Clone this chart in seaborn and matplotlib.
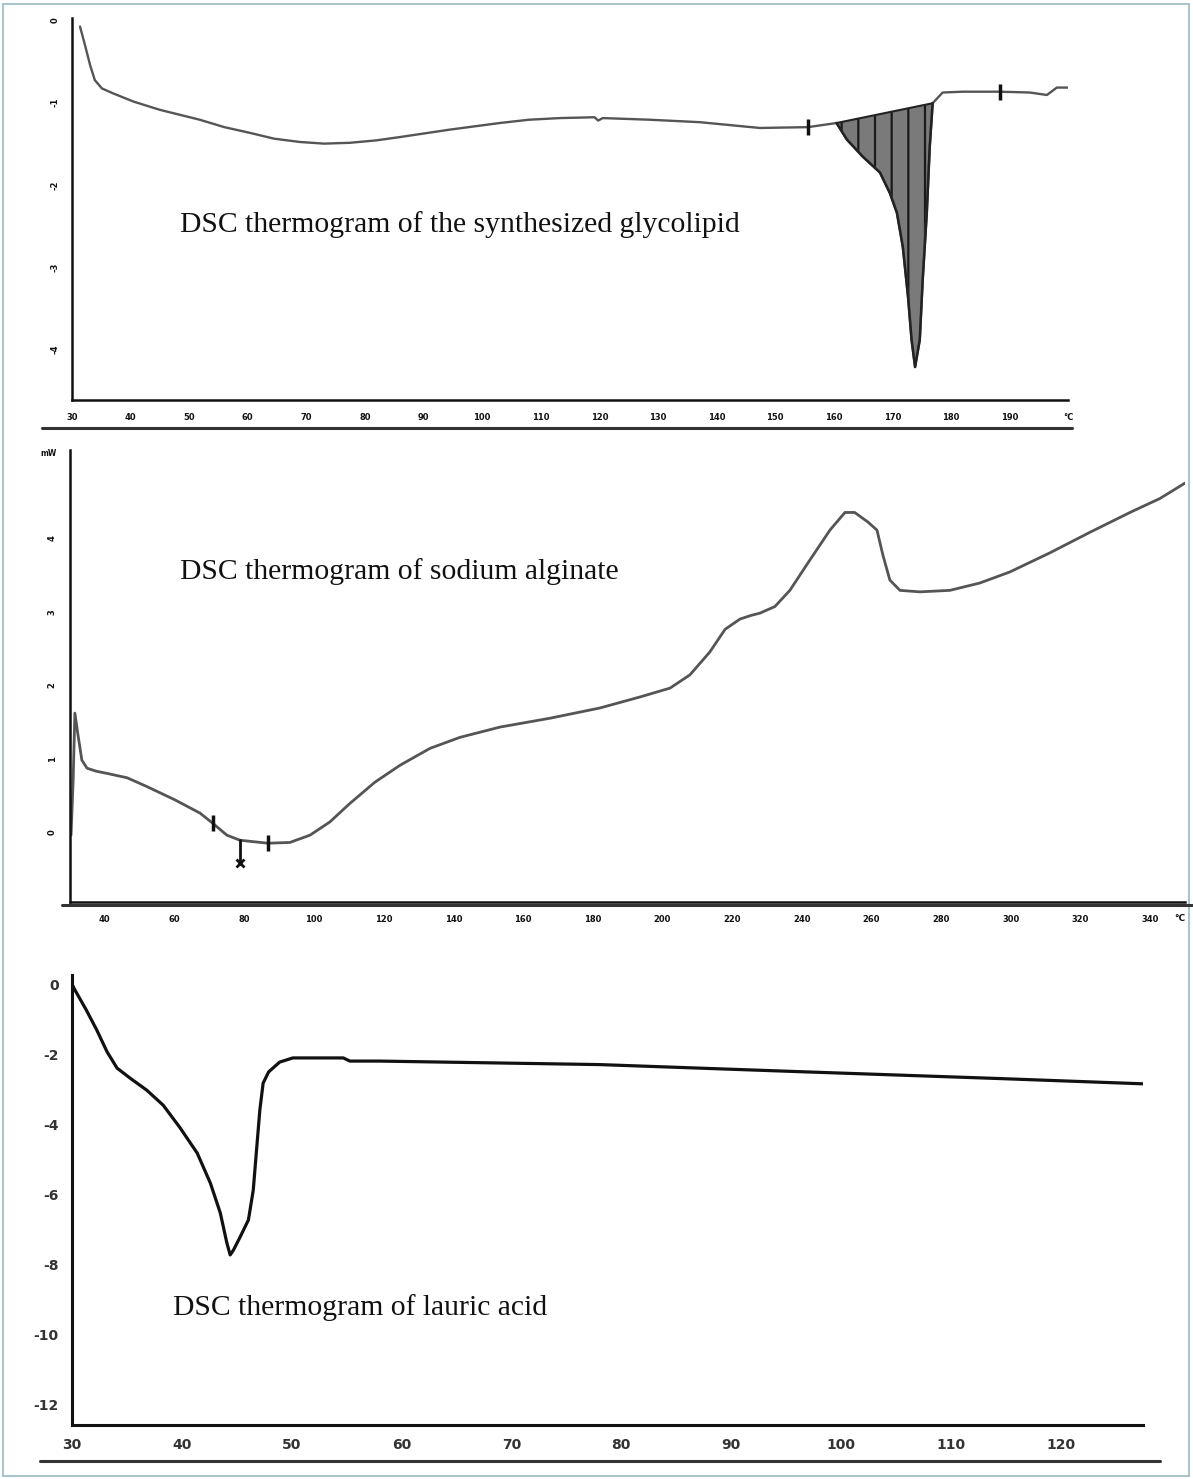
import numpy as np
import pandas as pd
import matplotlib
matplotlib.use("Agg")
import matplotlib.pyplot as plt
from matplotlib.lines import Line2D
from matplotlib.patches import Rectangle
from matplotlib.ticker import MultipleLocator, FixedLocator
import seaborn as sns

# ---------------- data ----------------
# Panel 1: synthesized glycolipid
glyco_T = [31.37, 32.2, 33.1, 33.9, 35.1, 37.0, 40.5, 45.0, 51.8, 56.0, 60.4, 64.5, 68.9,
           73.0, 77.4, 82.0, 86.0, 94.5, 103.0, 108.0, 113.3, 119.2, 119.8, 120.6, 128.6,
           137.2, 143.0, 147.4, 155.6, 160.5, 162.25, 165.0, 167.9, 169.6, 170.8, 171.8,
           172.7, 173.3, 173.9, 174.7, 175.2, 175.9, 176.4, 176.9, 178.6, 182.0, 188.4,
           193.5, 196.4, 198.1, 200.0]
glyco_mW = [-0.08, -0.30, -0.55, -0.73, -0.83, -0.89, -0.99, -1.09, -1.21, -1.30, -1.37,
            -1.44, -1.48, -1.50, -1.49, -1.46, -1.42, -1.33, -1.25, -1.21, -1.19, -1.18,
            -1.22, -1.19, -1.21, -1.24, -1.28, -1.31, -1.30, -1.25, -1.45, -1.66, -1.85,
            -2.10, -2.34, -2.75, -3.36, -3.88, -4.21, -3.88, -3.15, -2.34, -1.54, -1.01,
            -0.88, -0.87, -0.87, -0.88, -0.91, -0.82, -0.82]
glyco_peak_start, glyco_peak_end = 160.5, 176.9
glyco_marks = [155.6, 188.4]
glyco_xticks = list(range(30, 201, 10))
glyco_xlabels = [str(v) for v in range(30, 200, 10)] + ["°C"]
glyco_yticks = [0, -1, -2, -3, -4]

# Panel 2: sodium alginate
alg_T = [30.3, 30.9, 31.4, 32.3, 33.4, 34.9, 37.5, 40.6, 46.4, 52.1, 60.1, 67.3, 71.0,
         75.0, 78.8, 86.8, 93.1, 98.9, 104.6, 110.3, 117.5, 124.7, 133.3, 141.9, 153.4,
         167.7, 182.1, 193.6, 202.2, 207.9, 213.6, 218.0, 222.3, 225.5, 228.0, 232.3,
         236.6, 242.3, 248.1, 252.4, 255.2, 259.0, 261.6, 263.3, 265.3, 268.2, 273.9,
         282.5, 291.1, 299.7, 311.2, 322.7, 334.2, 342.8, 350.0]
alg_mW = [-0.04, 0.70, 1.62, 1.32, 0.98, 0.87, 0.83, 0.80, 0.74, 0.62, 0.44, 0.26, 0.12,
          -0.04, -0.11, -0.15, -0.14, -0.04, 0.14, 0.39, 0.68, 0.91, 1.14, 1.29, 1.43,
          1.55, 1.69, 1.84, 1.96, 2.14, 2.45, 2.76, 2.90, 2.95, 2.98, 3.07, 3.29, 3.70,
          4.11, 4.35, 4.35, 4.22, 4.11, 3.77, 3.43, 3.29, 3.27, 3.29, 3.39, 3.54, 3.80,
          4.08, 4.35, 4.54, 4.75]
alg_marks = [71.0, 86.8]
alg_peak_mark = 78.8
alg_peak_drop = -0.42
alg_xticks = list(range(40, 341, 20))
alg_yticks = [0, 1, 2, 3, 4]

# Panel 3: lauric acid
lau_T = [30.0, 30.27, 31.3, 32.25, 33.2, 34.1, 35.3, 36.8, 38.3, 39.8, 41.4, 42.6, 43.5,
         44.1, 44.4, 44.7, 45.3, 46.06, 46.5, 46.8, 47.1, 47.4, 47.9, 48.9, 50.1, 54.7,
         55.3, 58.0, 78.0, 96.0, 114.5, 127.5]
lau_mW = [0.0, -0.17, -0.74, -1.31, -1.94, -2.40, -2.69, -3.03, -3.46, -4.09, -4.83,
          -5.69, -6.54, -7.40, -7.74, -7.60, -7.23, -6.74, -5.89, -4.74, -3.60, -2.83,
          -2.51, -2.23, -2.11, -2.11, -2.20, -2.20, -2.30, -2.50, -2.70, -2.85]
lau_xticks = list(range(30, 121, 10))
lau_yticks = [0, -2, -4, -6, -8, -10, -12]

titles = ["DSC thermogram of the synthesized glycolipid",
          "DSC thermogram of sodium alginate",
          "DSC thermogram of lauric acid"]

# ---------------- style ----------------
sns.set_theme(style="white")
plt.rcParams["font.family"] = ["DejaVu Sans"]
plt.rcParams["axes.unicode_minus"] = False
plt.rcParams["hatch.linewidth"] = 1.6
plt.rcParams["lines.solid_joinstyle"] = "round"

W, H = 1193, 1479
fig = plt.figure(figsize=(W / 100, H / 100), dpi=100)
fig.patch.set_facecolor("white")


def box(l, t, r, b):
    return [l / W, 1 - b / H, (r - l) / W, (b - t) / H]


def style_axis(ax, lw=1.8):
    for s in ["top", "right"]:
        ax.spines[s].set_visible(False)
    for s in ["left", "bottom"]:
        ax.spines[s].set_color("#111111")
        ax.spines[s].set_linewidth(lw)
    ax.tick_params(which="both", direction="out", colors="#111111", width=1.5)
    ax.tick_params(which="major", length=6)
    ax.tick_params(which="minor", length=4)
    ax.set_xlabel("")
    ax.set_ylabel("")
    ax.grid(False)


serif = ["Liberation Serif", "DejaVu Serif"]
TITLE_FS = 21.3

# ---- panel 1 ----
ax1 = fig.add_axes(box(72, 18, 1068, 400))
df1 = pd.DataFrame({"T": glyco_T, "mW": glyco_mW})
sns.lineplot(data=df1, x="T", y="mW", ax=ax1, color="#555555", lw=1.7,
             estimator=None, sort=False)
T1 = np.array(glyco_T)
m1 = np.array(glyco_mW)
sel = (T1 >= glyco_peak_start) & (T1 <= glyco_peak_end)
b0 = np.interp(glyco_peak_start, T1, m1)
b1 = np.interp(glyco_peak_end, T1, m1)
base = b0 + (T1[sel] - glyco_peak_start) * (b1 - b0) / (glyco_peak_end - glyco_peak_start)
ax1.fill_between(T1[sel], m1[sel], base, facecolor="#7a7a7a", edgecolor="#1a1a1a",
                 hatch="|", linewidth=0)
ax1.plot([glyco_peak_start, glyco_peak_end], [b0, b1], color="#222222", lw=1.5)
ax1.plot(T1[sel], m1[sel], color="#222222", lw=1.8)
ax1.plot(glyco_marks, np.interp(glyco_marks, T1, m1), ls="none", marker="|",
         ms=12, mew=2.5, color="#111111")
ax1.set_xlim(30, 200)
ax1.set_ylim(-4.61, 0.024)
style_axis(ax1)
ax1.xaxis.set_major_locator(FixedLocator(glyco_xticks))
ax1.set_xticklabels(glyco_xlabels, fontsize=6, fontweight="bold")
ax1.xaxis.set_minor_locator(MultipleLocator(2))
ax1.yaxis.set_major_locator(FixedLocator(glyco_yticks))
ax1.set_yticklabels([str(v) for v in glyco_yticks], fontsize=6, fontweight="bold",
                    rotation=90, va="center")
ax1.yaxis.set_minor_locator(MultipleLocator(0.2))
ax1.tick_params(axis="both", which="major", pad=3)
fig.text(180 / W, 1 - 225 / H, titles[0], fontsize=TITLE_FS, family=serif,
         color="#111111", va="center", ha="left")

# ---- panel 2 ----
ax2 = fig.add_axes(box(70, 450, 1185, 902))
df2 = pd.DataFrame({"T": alg_T, "mW": alg_mW})
sns.lineplot(data=df2, x="T", y="mW", ax=ax2, color="#555555", lw=2.0,
             estimator=None, sort=False)
T2 = np.array(alg_T)
m2 = np.array(alg_mW)
ax2.plot(alg_marks, np.interp(alg_marks, T2, m2), ls="none", marker="|",
         ms=12, mew=2.5, color="#111111")
yk = np.interp(alg_peak_mark, T2, m2)
ax2.plot([alg_peak_mark, alg_peak_mark], [yk, alg_peak_drop], color="#111111", lw=2)
ax2.plot([alg_peak_mark], [alg_peak_drop], ls="none", marker="x", ms=6, mew=2,
         color="#111111")
ax2.set_xlim(30, 350)
ax2.set_ylim(-0.95, 5.2)
style_axis(ax2)
ax2.xaxis.set_major_locator(FixedLocator(alg_xticks))
ax2.set_xticklabels([str(v) for v in alg_xticks], fontsize=6, fontweight="bold")
ax2.xaxis.set_minor_locator(MultipleLocator(10))
ax2.yaxis.set_major_locator(FixedLocator(alg_yticks))
ax2.set_yticklabels([str(v) for v in alg_yticks], fontsize=6, fontweight="bold",
                    rotation=90, va="center")
ax2.yaxis.set_minor_locator(MultipleLocator(0.2))
ax2.text(348.5, -0.036, "°C", transform=ax2.get_xaxis_transform(), fontsize=6.5,
         fontweight="bold", ha="center", va="center", color="#111111")
ax2.text(-0.012, 5.15, "mW", transform=ax2.get_yaxis_transform(), fontsize=5.5,
         fontweight="bold", ha="right", va="center", color="#111111")
fig.text(180 / W, 1 - 572 / H, titles[1], fontsize=TITLE_FS, family=serif,
         color="#111111", va="center", ha="left")

# ---- panel 3 ----
ax3 = fig.add_axes(box(72, 975, 1143, 1425))
df3 = pd.DataFrame({"T": lau_T, "mW": lau_mW})
sns.lineplot(data=df3, x="T", y="mW", ax=ax3, color="#111111", lw=2.3,
             estimator=None, sort=False)
ax3.set_xlim(30, 127.5)
ax3.set_ylim(-12.6, 0.26)
style_axis(ax3, lw=2.2)
ax3.xaxis.set_major_locator(FixedLocator(lau_xticks))
ax3.set_xticklabels([str(v) for v in lau_xticks], fontsize=10, fontweight="bold",
                    color="#333333")
ax3.xaxis.set_minor_locator(MultipleLocator(2))
ax3.yaxis.set_major_locator(FixedLocator(lau_yticks))
ax3.set_yticklabels([str(v) for v in lau_yticks], fontsize=10, fontweight="bold",
                    color="#333333")
ax3.yaxis.set_minor_locator(MultipleLocator(1))
fig.text(173 / W, 1 - 1308 / H, titles[2], fontsize=TITLE_FS, family=serif,
         color="#111111", va="center", ha="left")

# ---- separators & frame ----
for (x0, x1, y) in [(42, 1072, 428), (62, 1192, 905), (40, 1160, 1461)]:
    fig.add_artist(Line2D([x0 / W, x1 / W], [1 - y / H, 1 - y / H], color="#333333",
                          lw=2.2, transform=fig.transFigure))
fig.add_artist(Rectangle((3 / W, 3 / H), (W - 7) / W, (H - 7) / H, fill=False,
                         edgecolor="#a9c4cc", lw=1.5, transform=fig.transFigure))

fig.savefig("out.png", dpi=100, facecolor="white")
